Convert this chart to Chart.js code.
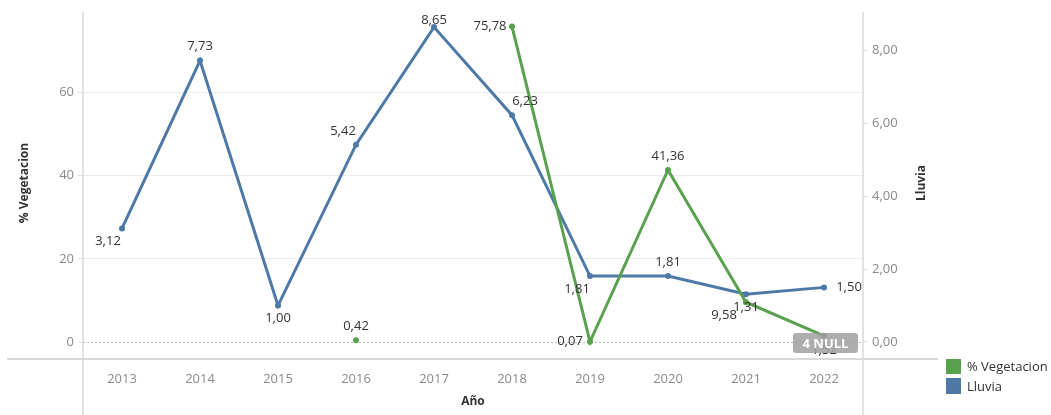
<!DOCTYPE html>
<html>
<head>
<meta charset="utf-8">
<script src="https://cdn.jsdelivr.net/npm/chart.js@4"></script>
<style>
  html, body { margin: 0; padding: 0; background: #fff; }
  #wrap { width: 1051px; height: 415px; position: relative; }
</style>
</head>
<body>
<div id="wrap"><canvas id="c" width="1051" height="415"></canvas></div>
<script>
// ---- Data ----
const years = ['2013','2014','2015','2016','2017','2018','2019','2020','2021','2022'];
const vegetacion = [null, null, null, 0.42, null, 75.78, 0.07, 41.36, 9.58, 1.52];
const lluvia = [3.12, 7.73, 1.00, 5.42, 8.65, 6.23, 1.81, 1.81, 1.31, 1.50];
const vegTicks = [0, 20, 40, 60];
const lluviaTicks = [0, 2, 4, 6, 8];
const nullCount = vegetacion.filter(v => v === null).length;

// ---- Styles / label placement ----
const GREEN = '#59a14f';
const BLUE = '#4e79a7';
const FONT = '"Open Sans", "Noto Sans", sans-serif';
const vegLabelOffsets = [null, null, null, [0,-14], null, [-22,0], [-20,0], [0,-14], [-22,13], [0,15]];
const lluviaLabelOffsets = [[-14,13],[0,-14],[0,13],[-13,-13],[0,-7],[13,-14],[-13,13],[0,-14],[0,13],[25,0]];

const fmt = (v, d) => v.toFixed(d).replace('.', ',');

const CH = { left: 83, right: 863, top: 10, bottom: 358 };

const decorPlugin = {
  id: 'decor',
  beforeDatasetsDraw(chart) {
    const ctx = chart.ctx;
    const y0 = chart.scales.y.getPixelForValue(0);
    ctx.save();
    ctx.strokeStyle = '#b5b5b5';
    ctx.lineWidth = 1;
    ctx.setLineDash([2, 2]);
    ctx.beginPath();
    ctx.moveTo(chart.chartArea.left, Math.round(y0) + 0.5);
    ctx.lineTo(chart.chartArea.right, Math.round(y0) + 0.5);
    ctx.stroke();
    ctx.restore();
  },
  afterDraw(chart) {
    const ctx = chart.ctx;
    const ca = chart.chartArea;
    ctx.save();
    // axis frame lines
    ctx.strokeStyle = '#d9d9d9';
    ctx.lineWidth = 1.5;
    ctx.beginPath();
    ctx.moveTo(ca.left, ca.top); ctx.lineTo(ca.left, 415);
    ctx.moveTo(ca.right, ca.top); ctx.lineTo(ca.right, 415);
    ctx.stroke();
    ctx.lineWidth = 2;
    ctx.beginPath();
    ctx.moveTo(7, ca.bottom + 1); ctx.lineTo(938, ca.bottom + 1);
    ctx.stroke();

    // data labels
    ctx.font = '13px ' + FONT;
    ctx.fillStyle = '#333';
    ctx.textAlign = 'center';
    ctx.textBaseline = 'middle';
    const sets = [[0, vegetacion, vegLabelOffsets], [1, lluvia, lluviaLabelOffsets]];
    sets.forEach(([di, vals, offs]) => {
      const meta = chart.getDatasetMeta(di);
      vals.forEach((v, i) => {
        if (v === null || !offs[i]) return;
        const p = meta.data[i];
        ctx.fillText(fmt(v, 2), p.x + offs[i][0], p.y + offs[i][1]);
      });
    });

    // NULL badge
    const bx = 793, by = 333, bw = 65, bh = 20;
    ctx.fillStyle = 'rgba(160,160,160,0.85)';
    ctx.beginPath();
    ctx.roundRect(bx, by, bw, bh, 3);
    ctx.fill();
    ctx.fillStyle = '#fff';
    ctx.font = 'bold 13px ' + FONT;
    ctx.fillText(nullCount + ' NULL', bx + bw / 2, by + bh / 2 + 1);

    // axis titles
    ctx.fillStyle = '#333';
    ctx.font = 'bold 12px ' + FONT;
    ctx.save();
    ctx.translate(25, 183);
    ctx.rotate(-Math.PI / 2);
    ctx.fillText('% Vegetacion', 0, 0);
    ctx.restore();
    ctx.save();
    ctx.translate(922, 183);
    ctx.rotate(-Math.PI / 2);
    ctx.fillText('Lluvia', 0, 0);
    ctx.restore();
    ctx.fillText('Año', (ca.left + ca.right) / 2, 402);

    // legend
    ctx.textAlign = 'left';
    ctx.font = '13px ' + FONT;
    ctx.fillStyle = GREEN;
    ctx.fillRect(946, 359, 15, 15);
    ctx.fillStyle = BLUE;
    ctx.fillRect(946, 378, 15, 16);
    ctx.fillStyle = '#333';
    ctx.fillText('% Vegetacion', 967, 367);
    ctx.fillText('Lluvia', 967, 387);
    ctx.restore();
  }
};

new Chart(document.getElementById('c'), {
  type: 'line',
  data: {
    labels: years,
    datasets: [
      {
        label: '% Vegetacion', data: vegetacion, yAxisID: 'y',
        borderColor: GREEN, backgroundColor: GREEN, borderWidth: 3,
        pointRadius: 3, pointHoverRadius: 3, pointBorderWidth: 0, spanGaps: false, tension: 0
      },
      {
        label: 'Lluvia', data: lluvia, yAxisID: 'y1',
        borderColor: BLUE, backgroundColor: BLUE, borderWidth: 3,
        pointRadius: 3, pointHoverRadius: 3, pointBorderWidth: 0, tension: 0
      }
    ]
  },
  options: {
    responsive: false,
    animation: false,
    events: [],
    layout: { padding: { top: CH.top, left: 0, right: 0, bottom: 0 } },
    plugins: { legend: { display: false }, tooltip: { enabled: false } },
    scales: {
      x: {
        offset: true,
        grid: { display: false },
        border: { display: false },
        ticks: { color: '#8a8a8a', font: { family: FONT, size: 13 }, padding: 5, maxRotation: 0 },
        afterFit(s) { s.height = 415 - CH.bottom; }
      },
      y: {
        position: 'left',
        min: (CH.bottom - 342) / -4.185, max: 79.33,
        afterBuildTicks(s) { s.ticks = vegTicks.map(v => ({ value: v })); },
        grid: {
          color: c => (c.tick && c.tick.value === 0) ? 'rgba(0,0,0,0)' : '#ededed',
          tickColor: '#e0e0e0', tickLength: 5, lineWidth: 1
        },
        border: { display: false },
        ticks: { color: '#8a8a8a', font: { family: FONT, size: 13 }, padding: 4 },
        afterFit(s) { s.width = CH.left; }
      },
      y1: {
        position: 'right',
        min: -0.44, max: 9.07,
        afterBuildTicks(s) { s.ticks = lluviaTicks.map(v => ({ value: v })); },
        grid: { drawOnChartArea: false, tickColor: '#e0e0e0', tickLength: 5 },
        border: { display: false },
        ticks: { color: '#8a8a8a', font: { family: FONT, size: 13 }, padding: 4, callback: v => fmt(v, 2) },
        afterFit(s) { s.width = 1051 - CH.right; }
      }
    }
  },
  plugins: [decorPlugin]
});
</script>
</body>
</html>
